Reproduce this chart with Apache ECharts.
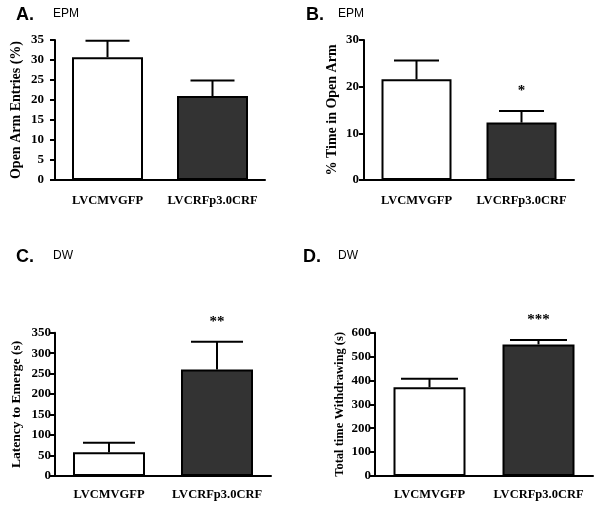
<!DOCTYPE html>
<html>
<head>
<meta charset="utf-8">
<script src="https://cdn.jsdelivr.net/npm/echarts@6/dist/echarts.min.js"></script>
<style>html,body{margin:0;padding:0;background:#fff}#c{width:600px;height:509px}</style>
</head>
<body>
<div id="c"></div>
<script>
const categories = ['LVCMVGFP', 'LVCRFp3.0CRF'];
const entriesMean = [30.7, 21.0];
const entriesErr = [4.1, 3.9];
const timeMean = [21.6, 12.3];
const timeErr = [4.0, 2.5];
const latencyMean = [58, 260];
const latencyErr = [23, 68];
const withdrawMean = [372, 551];
const withdrawErr = [35, 18];
const starsA = ['', ''];
const starsB = ['', '*'];
const starsC = ['', '**'];
const starsD = ['', '***'];
const barColors = ['#ffffff', '#333333'];

const panels = [
  {grid:{left:55, top:40, width:210, height:140}, max:35, interval:5, name:'Open Arm Entries (%)', nameGap:32, nameSize:14, margin:11, mean:entriesMean, err:entriesErr, stars:starsA, barWidth:71, cap:44, catMargin:14},
  {grid:{left:364, top:40, width:210, height:140}, max:30, interval:10, name:'% Time in Open Arm', nameGap:25, nameSize:14, margin:5, mean:timeMean, err:timeErr, stars:starsB, barWidth:70, cap:45, catMargin:14},
  {grid:{left:55, top:332.7, width:216, height:143.3}, max:350, interval:50, name:'Latency to Emerge (s)', nameGap:31, nameSize:13.5, margin:4, mean:latencyMean, err:latencyErr, stars:starsC, barWidth:72, cap:52, catMargin:12},
  {grid:{left:375, top:332.7, width:218, height:143.3}, max:600, interval:100, name:'Total time Withdrawing (s)', nameGap:29, nameSize:12.5, margin:4, mean:withdrawMean, err:withdrawErr, stars:starsD, barWidth:72, cap:57, catMargin:12}
];

const serif = '"Liberation Serif", "Times New Roman", serif';
const grids = [], xAxes = [], yAxes = [], series = [];
panels.forEach((p, i) => {
  grids.push(p.grid);
  xAxes.push({
    type:'category', gridIndex:i, data:categories,
    axisLine:{lineStyle:{color:'#000', width:2}},
    axisTick:{alignWithLabel:true, length:5, lineStyle:{color:'#000', width:2}},
    axisLabel:{interval:0, hideOverlap:false, color:'#000', fontFamily:serif, fontWeight:'bold', fontSize:12.5, margin:p.catMargin}
  });
  yAxes.push({
    type:'value', gridIndex:i, min:0, max:p.max, interval:p.interval,
    name:p.name, nameLocation:'middle', nameRotate:90, nameGap:p.nameGap,
    nameTextStyle:{color:'#000', fontFamily:serif, fontWeight:'bold', fontSize:p.nameSize},
    axisLine:{show:true, lineStyle:{color:'#000', width:2}},
    axisTick:{show:true, length:5, lineStyle:{color:'#000', width:2}},
    axisLabel:{color:'#000', fontFamily:serif, fontWeight:'bold', fontSize:13, margin:p.margin},
    splitLine:{show:false}
  });
  series.push({
    type:'bar', xAxisIndex:i, yAxisIndex:i, barWidth:p.barWidth,
    data:p.mean.map((v, k) => ({value:v, itemStyle:{color:barColors[k], borderColor:'#000', borderWidth:2}})),
    silent:true
  });
  series.push({
    type:'custom', xAxisIndex:i, yAxisIndex:i, silent:true, z:3,
    data:p.mean.map((v, k) => [k, v, p.err[k]]),
    renderItem:(params, api) => {
      const x = api.value(0), m = api.value(1), e = api.value(2);
      const p0 = api.coord([x, m]);
      const p1 = api.coord([x, m + e]);
      const h = p.cap / 2;
      const st = {stroke:'#000', lineWidth:2};
      return {type:'group', children:[
        {type:'line', shape:{x1:p0[0], y1:p0[1], x2:p1[0], y2:p1[1]}, style:st},
        {type:'line', shape:{x1:p1[0]-h, y1:p1[1], x2:p1[0]+h, y2:p1[1]}, style:st}
      ]};
    }
  });
  series.push({
    type:'custom', xAxisIndex:i, yAxisIndex:i, silent:true, z:4,
    data:p.mean.map((v, k) => [k, v + p.err[k]]),
    renderItem:(params, api) => {
      const pt = api.coord([api.value(0), api.value(1)]);
      const s = p.stars[params.dataIndex];
      return {type:'text', style:{text:s, x:pt[0], y:pt[1]-12, textAlign:'center', textVerticalAlign:'bottom', fill:'#000', font:'bold 15px ' + serif}};
    }
  });
});

const sans = '"Liberation Sans", Arial, sans-serif';
const titleItems = [
  ['A.', 16, 16, 'EPM', 53],
  ['B.', 306, 16, 'EPM', 338],
  ['C.', 16, 258, 'DW', 53],
  ['D.', 303, 258, 'DW', 338]
];
const graphics = [];
titleItems.forEach(t => {
  graphics.push({type:'text', left:t[1], top:t[2]-10, style:{text:t[0], font:'bold 18px ' + sans, fill:'#000'}});
  graphics.push({type:'text', left:t[4], top:t[2]-8, style:{text:t[3], font:'12px ' + sans, fill:'#000'}});
});

const chart = echarts.init(document.getElementById('c'), null, {renderer:'canvas'});
chart.setOption({
  animation:false,
  backgroundColor:'#fff',
  grid:grids, xAxis:xAxes, yAxis:yAxes, series:series, graphic:graphics
});
</script>
</body>
</html>
